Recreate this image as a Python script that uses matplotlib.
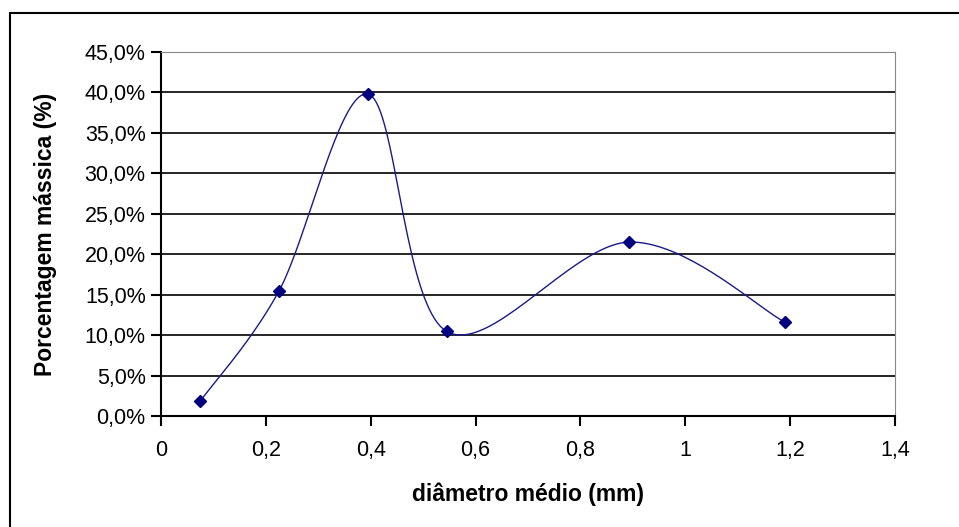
import numpy as np
import matplotlib.pyplot as plt
from matplotlib.ticker import FuncFormatter
from matplotlib.patches import Rectangle

diametro = [0.075, 0.225, 0.395, 0.545, 0.893, 1.19]
porcentagem = [1.85, 15.45, 39.8, 10.45, 21.5, 11.6]

plt.rcParams['font.family'] = ['Liberation Sans', 'DejaVu Sans']


def excel_smooth(x, y, n=40):
    # Bezier smoothing through the points, similar to Excel "smoothed line"
    x = np.asarray(x, float)
    y = np.asarray(y, float)
    px = np.concatenate([[x[0]], x, [x[-1]]])
    py = np.concatenate([[y[0]], y, [y[-1]]])
    xs, ys = [], []
    t = np.linspace(0, 1, n)
    for i in range(1, len(px) - 2):
        p0 = np.array([px[i], py[i]])
        p3 = np.array([px[i + 1], py[i + 1]])
        p1 = p0 + (np.array([px[i + 1], py[i + 1]]) - np.array([px[i - 1], py[i - 1]])) / 6
        p2 = p3 - (np.array([px[i + 2], py[i + 2]]) - np.array([px[i], py[i]])) / 6
        b = ((1 - t) ** 3)[:, None] * p0 + (3 * (1 - t) ** 2 * t)[:, None] * p1 \
            + (3 * (1 - t) * t ** 2)[:, None] * p2 + (t ** 3)[:, None] * p3
        xs.extend(b[:, 0])
        ys.extend(b[:, 1])
    return xs, ys


fig = plt.figure(figsize=(9.59, 5.27), dpi=100)
ax = fig.add_axes([161 / 959, 1 - 416 / 527, (895 - 161) / 959, (416 - 52) / 527])

fig.patches.append(Rectangle((10 / 959, -0.1), 1.2, 1 - 13 / 527 + 0.1, transform=fig.transFigure,
                             fill=False, edgecolor='black', linewidth=1.5))

sx, sy = excel_smooth(diametro, porcentagem)
ax.plot(sx, sy, color='#1a1a8c', linewidth=1.0)
ax.plot(diametro, porcentagem, linestyle='none', marker='D', markersize=6.5,
        color='#000080')

ax.set_xlim(0, 1.4)
ax.set_ylim(0, 45)
ax.set_xticks(np.arange(0, 1.41, 0.2))
ax.set_yticks(np.arange(0, 45.1, 5))
ax.xaxis.set_major_formatter(FuncFormatter(lambda v, p: ('%g' % round(v, 1)).replace('.', ',')))
ax.yaxis.set_major_formatter(FuncFormatter(lambda v, p: ('%.1f%%' % v).replace('.', ',')))
ax.grid(axis='y', color='black', linewidth=1.2)
ax.set_axisbelow(True)

for s in ['top', 'right']:
    ax.spines[s].set_color('#888888')
for s in ['left', 'bottom']:
    ax.spines[s].set_linewidth(1.5)
ax.tick_params(direction='out', length=7, width=1.5, labelsize=15.5, pad=4)
ax.tick_params(axis='x', pad=10)

ax.set_xlabel('diâmetro médio (mm)', fontsize=16.5, fontweight='bold', labelpad=16)
ax.set_ylabel('Porcentagem mássica (%)', fontsize=16.5, fontweight='bold', labelpad=20)

fig.savefig('out.png', dpi=100)
